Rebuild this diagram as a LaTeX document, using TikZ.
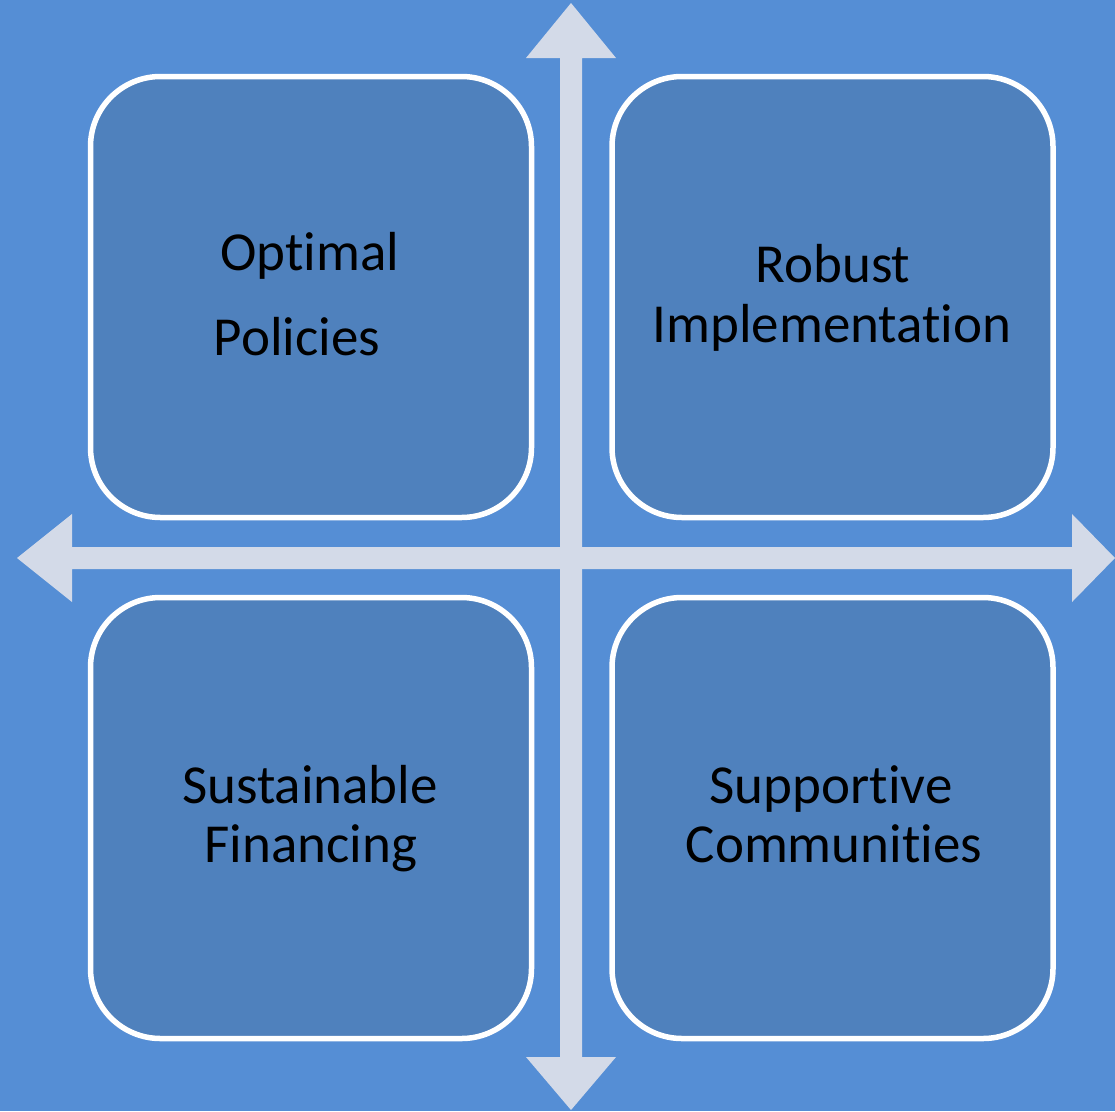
\documentclass[tikz,border=0pt]{standalone}
\usepackage{fontspec}
\setmainfont{Carlito}[Ligatures={NoCommon,NoDiscretionary}]
\definecolor{bgblue}{RGB}{85,142,213}
\definecolor{boxblue}{RGB}{79,129,189}
\definecolor{arrowgray}{RGB}{211,218,232}
\tikzset{
  quad/.style={draw=white, line width=5.5pt, fill=boxblue, rounded corners=70pt,
    minimum width=441pt, minimum height=441pt, inner sep=0pt},
  lbl/.style={anchor=base, inner sep=0pt, text=black, font=\fontsize{55}{60}\selectfont},
  axis/.style={fill=arrowgray, draw=none}
}
\begin{document}
\begin{tikzpicture}[x=1pt,y=-1pt]
\fill[bgblue] (0,0) rectangle (1115,1111);
\useasboundingbox (0,0) rectangle (1115,1111);
% quadrant boxes
\node[quad] (tl) at (311,297) {};
\node[quad] (tr) at (832.5,297) {};
\node[quad] (bl) at (311,818) {};
\node[quad] (br) at (832.5,818) {};
% axes (double-headed arrows)
\coordinate (top) at (571,3);
\coordinate (bottom) at (571,1110);
\coordinate (left) at (17,558);
\coordinate (right) at (1115,558);
\fill[axis] (top) -- (616,58) -- (582,58) -- (582,1057) -- (616,1057) -- (bottom)
  -- (526,1057) -- (560,1057) -- (560,58) -- (526,58) -- cycle;
\fill[axis] (left) -- (72,514) -- (72,547) -- (1072,547) -- (1072,514) -- (right)
  -- (1072,602) -- (1072,569) -- (72,569) -- (72,602) -- cycle;
% labels
\node[lbl] (t1) at (310,270) {Optimal};
\node[lbl] (t2) at (297,355) {Policies};
\node[lbl] (t3) at (833,282) {Robust};
\node[lbl] (t4) at (832,342) {Implementation};
\node[lbl] (t5) at (310,803) {Sustainable};
\node[lbl] (t6) at (311,862) {Financing};
\node[lbl] (t7) at (831,803) {Supportive};
\node[lbl] (t8) at (834,862) {Communities};
\end{tikzpicture}
\end{document}
